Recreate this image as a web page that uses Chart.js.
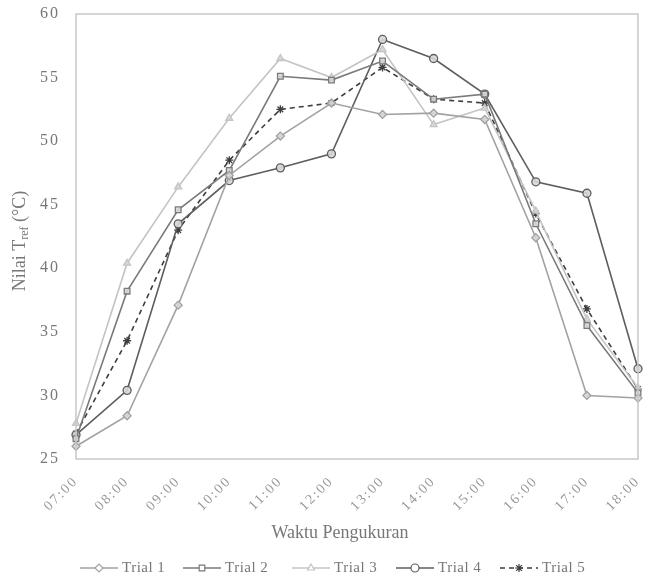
<!DOCTYPE html>
<html>
<head>
<meta charset="utf-8">
<script src="https://cdn.jsdelivr.net/npm/chart.js@4.4.0/dist/chart.umd.min.js"></script>
<style>
html,body{margin:0;padding:0;background:#fff;}
#wrap{width:650px;height:582px;position:relative;}
</style>
</head>
<body>
<div id="wrap"><canvas id="c" width="650" height="582"></canvas></div>
<script>
const categories = ["07:00","08:00","09:00","10:00","11:00","12:00","13:00","14:00","15:00","16:00","17:00","18:00"];
const trial1 = [26.0, 28.4, 37.1, 47.3, 50.4, 53.0, 52.1, 52.2, 51.7, 42.4, 30.0, 29.8];
const trial2 = [26.6, 38.2, 44.6, 47.7, 55.1, 54.8, 56.3, 53.3, 53.7, 43.5, 35.5, 30.2];
const trial3 = [27.8, 40.4, 46.4, 51.8, 56.5, 55.0, 57.2, 51.3, 52.6, 44.5, 36.0, 30.6];
const trial4 = [26.9, 30.4, 43.5, 46.9, 47.9, 49.0, 58.0, 56.5, 53.7, 46.8, 45.9, 32.1];
const trial5 = [27.0, 34.3, 43.0, 48.5, 52.5, 53.0, 55.8, 53.3, 53.0, 44.3, 36.8, 30.5];
const seriesNames = ["Trial 1","Trial 2","Trial 3","Trial 4","Trial 5"];
const yTicks = [25,30,35,40,45,50,55,60];
const xTitle = "Waktu Pengukuran";

const styles = [
  {color:"#a2a2a2", point:"rectRot", dash:[]},
  {color:"#7a7a7a", point:"rect", dash:[]},
  {color:"#c4c4c4", point:"triangle", dash:[]},
  {color:"#5e5e5e", point:"circle", dash:[]},
  {color:"#3e3e3e", point:"star", dash:[5,4]}
];
const allData = [trial1, trial2, trial3, trial4, trial5];

const datasets = allData.map((d,i)=>({
  label: seriesNames[i],
  data: d,
  borderColor: styles[i].color,
  backgroundColor: "rgba(220,220,220,0.9)",
  pointBorderColor: styles[i].color,
  pointBackgroundColor: "rgba(215,215,215,0.9)",
  pointStyle: styles[i].point,
  pointRadius: 4,
  pointBorderWidth: 1.3,
  borderWidth: 1.6,
  borderDash: styles[i].dash,
  tension: 0,
  fill: false
}));

const SERIF = "'Liberation Serif','DejaVu Serif',serif";

const spacingPlugin = {
  id: 'spacing',
  beforeDraw(chart){ chart.ctx.letterSpacing = "2px"; },
  beforeDatasetsDraw(chart){ chart.ctx.letterSpacing = "0px"; }
};

const framePlugin = {
  id: 'frame',
  afterDraw(chart){
    const {ctx, chartArea:a} = chart;
    ctx.save();
    ctx.letterSpacing = "0px";
    ctx.strokeStyle = "#c8c8c8";
    ctx.lineWidth = 1.5;
    ctx.strokeRect(a.left, a.top, a.right-a.left, a.bottom-a.top);
    // y-axis title with subscript
    ctx.fillStyle = "#777";
    ctx.translate(20, 241);
    ctx.rotate(-Math.PI/2);
    const big = "18px " + SERIF, small = "12px " + SERIF;
    ctx.font = big;
    const p1 = "Nilai T", p3 = " (\u00B0C)";
    const w1 = ctx.measureText(p1).width, w3 = ctx.measureText(p3).width;
    ctx.font = small;
    const w2 = ctx.measureText("ref").width;
    let x = -(w1+w2+w3)/2;
    ctx.textBaseline = "middle";
    ctx.font = big; ctx.fillText(p1, x, 0); x += w1;
    ctx.font = small; ctx.fillText("ref", x, 5); x += w2;
    ctx.font = big; ctx.fillText(p3, x, 0);
    ctx.restore();

    // x-axis title
    ctx.save();
    ctx.letterSpacing = "0px";
    ctx.fillStyle = "#777";
    ctx.font = "18px " + SERIF;
    ctx.textAlign = "center";
    ctx.textBaseline = "middle";
    ctx.fillText(xTitle, 340, 533);
    ctx.restore();

    // legend
    ctx.save();
    const starts = [80, 183, 292, 396, 500];
    const ly = 568;
    chart.data.datasets.forEach((ds,i)=>{
      const sx = starts[i];
      ctx.letterSpacing = "0px";
      ctx.strokeStyle = ds.borderColor;
      ctx.lineWidth = 1.6;
      ctx.setLineDash(ds.borderDash);
      ctx.beginPath(); ctx.moveTo(sx, ly); ctx.lineTo(sx+38, ly); ctx.stroke();
      ctx.setLineDash([]);
      ctx.fillStyle = "#fff";
      ctx.strokeStyle = ds.borderColor;
      ctx.lineWidth = 1.2;
      Chart.helpers.drawPoint(ctx, {pointStyle: ds.pointStyle, radius: 4, rotation: 0, borderWidth: 1.2}, sx+19, ly);
      ctx.fillStyle = "#777";
      ctx.font = "15px " + SERIF;
      ctx.letterSpacing = "0.5px";
      ctx.textBaseline = "middle";
      ctx.fillText(ds.label, sx+42, ly);
    });
    ctx.restore();
  }
};

new Chart(document.getElementById('c'), {
  type: 'line',
  data: { labels: categories, datasets },
  options: {
    responsive: false,
    animation: false,
    layout: { padding: { top: 14, right: 12, left: 0, bottom: 0 } },
    plugins: { legend: { display: false }, tooltip: { enabled: false } },
    scales: {
      x: {
        offset: false,
        grid: { display: false, drawTicks: false },
        border: { display: false },
        ticks: {
          color: "#999",
          font: { family: SERIF, size: 14 },
          maxRotation: 45, minRotation: 45,
          padding: 14,
          autoSkip: false
        },
        afterFit(scale){
          scale.height = 123;
          scale.paddingLeft = 0; scale.paddingRight = 0;
          scale.paddingTop = 0; scale.paddingBottom = 0;
        }
      },
      y: {
        min: 25, max: 60,
        afterBuildTicks(scale){ scale.ticks = yTicks.map(v=>({value:v})); },
        grid: { display: false, drawTicks: false },
        border: { display: false },
        ticks: {
          color: "#777",
          font: { family: SERIF, size: 16 },
          padding: 16
        },
        afterFit(scale){
          scale.width = 76;
          scale.paddingTop = 0; scale.paddingBottom = 0;
          scale.paddingLeft = 0; scale.paddingRight = 0;
        }
      }
    }
  },
  plugins: [spacingPlugin, framePlugin]
});
</script>
</body>
</html>
